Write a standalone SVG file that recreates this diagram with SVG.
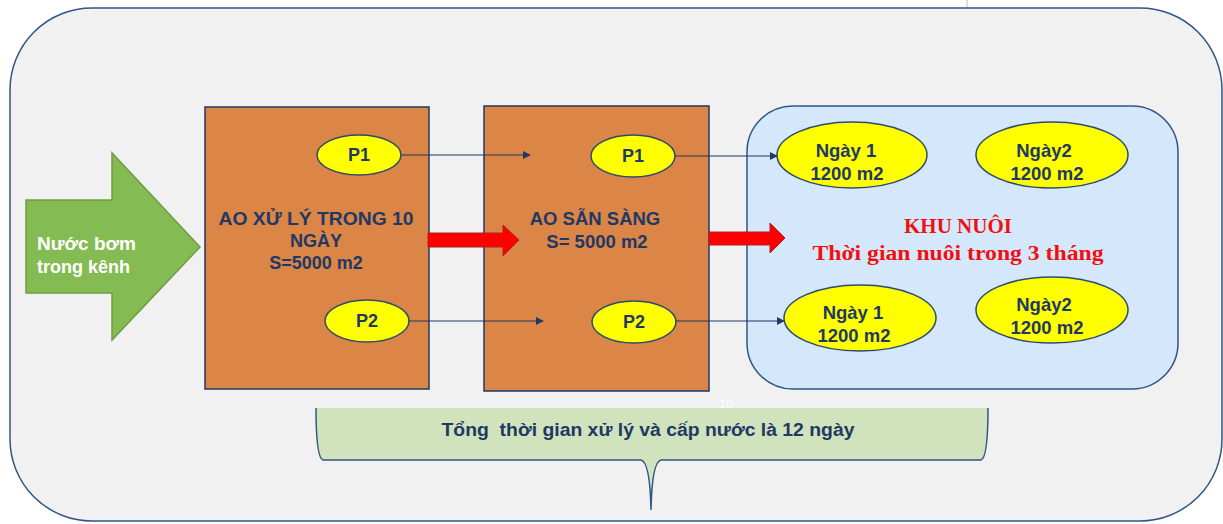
<svg xmlns="http://www.w3.org/2000/svg" width="1223" height="524" viewBox="0 0 1223 524">
<defs>
<style>
.lbl{font-family:"Liberation Sans",Arial,sans-serif;font-weight:bold;fill:#1f3864;text-anchor:middle}
.box{fill:#db8546;stroke:#1f3864;stroke-width:1.5}
.pe{fill:#ffff00;stroke:#2b4a73;stroke-width:1.5}
.conn{stroke:#1f3864;stroke-width:1.2;fill:none}
.red{fill:#ff0000;stroke:#b02020;stroke-width:1}
.kn{font-family:"Liberation Serif","Times New Roman",serif;font-weight:bold;fill:#ee1111;text-anchor:middle}
</style>
<marker id="ah" viewBox="0 0 10 10" refX="9" refY="5" markerWidth="8" markerHeight="8" markerUnits="userSpaceOnUse" orient="auto">
<path d="M0,0 L10,5 L0,10 z" fill="#1f3864"/>
</marker>
</defs>
<rect width="1223" height="524" fill="#ffffff"/>
<line x1="967" y1="0" x2="967" y2="8" stroke="#bbbbbb" stroke-width="1"/>
<g id="frame">
<rect x="10" y="8" width="1212" height="513" rx="82" ry="82" fill="#f1f1f1" stroke="#2e5686" stroke-width="1.5"/>
</g>
<g id="input">
<path d="M26,200 L112,200 L112,153 L200,247 L112,340 L112,293 L26,293 Z" fill="#84bb52" stroke="#6c9e42" stroke-width="1.5"/>
<text x="37" y="250" font-family="Liberation Sans,Arial,sans-serif" font-weight="bold" font-size="18" fill="#ffffff" textLength="99" lengthAdjust="spacingAndGlyphs">Nước bơm</text>
<text x="37" y="273" font-family="Liberation Sans,Arial,sans-serif" font-weight="bold" font-size="18" fill="#ffffff">trong kênh</text>
</g>
<g id="ao-xu-ly">
<rect class="box" x="205" y="107" width="224" height="282"/>
<text class="lbl" x="316" y="225" font-size="18" textLength="195" lengthAdjust="spacingAndGlyphs">AO XỬ LÝ TRONG 10</text>
<text class="lbl" x="316" y="247" font-size="18">NGÀY</text>
<text class="lbl" x="316" y="269" font-size="18">S=5000 m2</text>
</g>
<g id="ao-xu-ly-p1">
<ellipse class="pe" cx="359" cy="155" rx="42" ry="20"/>
<text class="lbl" x="359" y="161" font-size="18">P1</text>
</g>
<g id="ao-xu-ly-p2">
<ellipse class="pe" cx="367" cy="321" rx="42" ry="21"/>
<text class="lbl" x="367" y="327" font-size="18">P2</text>
</g>
<g id="ao-san-sang">
<rect class="box" x="484" y="106" width="225" height="285"/>
<text class="lbl" x="595" y="225" font-size="18.5">AO SẴN SÀNG</text>
<text class="lbl" x="597" y="248" font-size="18.5">S= 5000 m2</text>
</g>
<g id="ao-san-sang-p1">
<ellipse class="pe" cx="633" cy="156" rx="42" ry="21"/>
<text class="lbl" x="633" y="162" font-size="18">P1</text>
</g>
<g id="ao-san-sang-p2">
<ellipse class="pe" cx="634" cy="322" rx="42" ry="21"/>
<text class="lbl" x="634" y="328" font-size="18">P2</text>
</g>
<g id="khu-nuoi">
<rect x="747" y="106" width="431" height="283" rx="46" ry="46" fill="#d5e7fa" stroke="#2e5686" stroke-width="1.5"/>
<text class="kn" x="958" y="233" font-size="21">KHU NUÔI</text>
<text class="kn" x="958" y="260" font-size="22" textLength="291" lengthAdjust="spacingAndGlyphs">Thời gian nuôi trong 3 tháng</text>
</g>
<g id="ngay1-top">
<ellipse class="pe" cx="852" cy="155" rx="75" ry="33"/>
<text class="lbl" x="846" y="157" font-size="18.5">Ngày 1</text>
<text class="lbl" x="847" y="180" font-size="18.5">1200 m2</text>
</g>
<g id="ngay2-top">
<ellipse class="pe" cx="1052" cy="155" rx="76" ry="33"/>
<text class="lbl" x="1044" y="157" font-size="18.5">Ngày2</text>
<text class="lbl" x="1047" y="180" font-size="18.5">1200 m2</text>
</g>
<g id="ngay1-bottom">
<ellipse class="pe" cx="860" cy="318" rx="76" ry="33"/>
<text class="lbl" x="853" y="319" font-size="18.5">Ngày 1</text>
<text class="lbl" x="854" y="342" font-size="18.5">1200 m2</text>
</g>
<g id="ngay2-bottom">
<ellipse class="pe" cx="1052" cy="310" rx="76" ry="33"/>
<text class="lbl" x="1044" y="311" font-size="18.5">Ngày2</text>
<text class="lbl" x="1047" y="334" font-size="18.5">1200 m2</text>
</g>
<g id="connectors">
<line class="conn" x1="401" y1="155" x2="530" y2="155" marker-end="url(#ah)"/>
<line class="conn" x1="409" y1="321" x2="543" y2="321" marker-end="url(#ah)"/>
<line class="conn" x1="675" y1="156" x2="777" y2="156" marker-end="url(#ah)"/>
<line class="conn" x1="676" y1="321" x2="784" y2="321" marker-end="url(#ah)"/>
<path class="red" d="M428,233 L503,233 L503,225 L519,240 L503,256 L503,247 L428,247 Z"/>
<path class="red" d="M709,232 L770,232 L770,223 L785,238 L770,253 L770,245 L709,245 Z"/>
</g>
<g id="tong-thoi-gian">
<path d="M316,408 Q316,458 323,460 L641,460 Q650,462 651,510 Q652,462 661,460 L981,460 Q988,458 988,408 Z" fill="#d0e3bd" stroke="none"/>
<path d="M316,408 Q316,458 323,460 L641,460 Q650,462 651,510 Q652,462 661,460 L981,460 Q988,458 988,408" fill="none" stroke="#2e5686" stroke-width="1.5"/>
<text x="648" y="436" xml:space="preserve" font-family="Liberation Sans Narrow,Liberation Sans,Arial,sans-serif" font-weight="bold" font-size="18" fill="#1f3864" text-anchor="middle" textLength="413" lengthAdjust="spacingAndGlyphs">Tổng  thời gian xử lý và cấp nước là 12 ngày</text>
</g>
<text x="726" y="408" font-family="Liberation Sans,Arial,sans-serif" font-size="12" fill="#ffffff" text-anchor="middle">10</text>
</svg>
